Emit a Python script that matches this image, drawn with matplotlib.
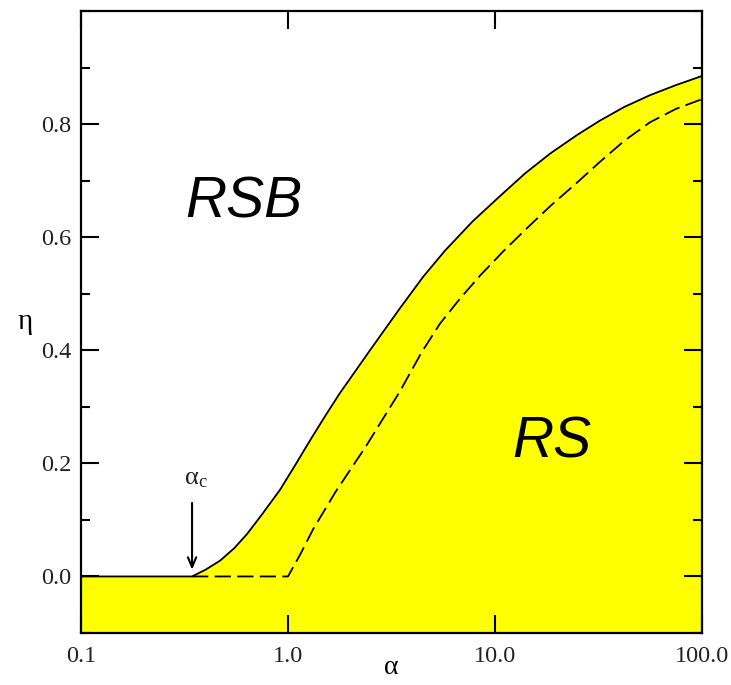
import matplotlib
matplotlib.use("Agg")
import matplotlib.pyplot as plt
from matplotlib.ticker import FixedLocator, MultipleLocator, NullLocator

plt.rcParams['mathtext.fontset'] = 'custom'
plt.rcParams['mathtext.rm'] = 'Liberation Serif'
plt.rcParams['mathtext.it'] = 'Liberation Serif'

# phase boundary (solid) and the RS stability line (dashed)
alpha_c = 0.344
alpha_solid = [0.1, 0.344, 0.40, 0.47, 0.55, 0.634, 0.75, 0.914, 1.08, 1.28,
               1.52, 1.78, 2.49, 3.47, 4.5, 5.73, 7.8, 10.6, 14.0, 18.5,
               25.0, 32.1, 42.0, 56.0, 75.0, 100.0]
eta_solid = [0.0, 0.0, 0.012, 0.028, 0.05, 0.075, 0.11, 0.153, 0.196, 0.241,
             0.285, 0.324, 0.40, 0.474, 0.53, 0.576, 0.628, 0.673, 0.713, 0.748,
             0.781, 0.806, 0.83, 0.851, 0.869, 0.885]

alpha_dash = [0.344, 1.0, 1.15, 1.32, 1.7, 2.15, 2.36, 3.47, 4.4, 5.42,
              6.8, 8.47, 10.9, 14.0, 18.5, 25.0, 32.1, 42.0, 56.0, 75.0, 100.0]
eta_dash = [0.0, 0.0, 0.04, 0.083, 0.15, 0.206, 0.228, 0.327, 0.395, 0.447,
            0.492, 0.532, 0.574, 0.613, 0.655, 0.697, 0.733, 0.77, 0.803, 0.827, 0.844]

xticks = [0.1, 1.0, 10.0, 100.0]
xlabels = ['0.1', '1.0', '10.0', '100.0']
yticks = [0.0, 0.2, 0.4, 0.6, 0.8]

serif = 'Liberation Serif'

fig = plt.figure(figsize=(7.31, 6.85), dpi=100)
ax = fig.add_axes([0.1108, 0.0759, 0.8495, 0.9081])

ax.set_xscale('log')
ax.set_xlim(0.1, 100)
ax.set_ylim(-0.1, 1.0)

ax.fill_between(alpha_solid, eta_solid, -0.1, color='#ffff00', lw=0, zorder=1)
ax.plot(alpha_solid, eta_solid, color='black', lw=1.3, zorder=3)
ax.plot(alpha_dash, eta_dash, color='black', lw=1.3, dashes=(9, 3.5), zorder=2)

ax.xaxis.set_major_locator(FixedLocator(xticks))
ax.xaxis.set_minor_locator(NullLocator())
ax.set_xticklabels(xlabels)
ax.yaxis.set_major_locator(FixedLocator(yticks))
ax.yaxis.set_minor_locator(MultipleLocator(0.1))
ax.set_yticklabels(['%.1f' % v for v in yticks])

ax.tick_params(which='both', direction='in', top=True, right=True, width=1.5)
ax.tick_params(which='major', length=13, labelsize=17.5, pad=7)
ax.tick_params(which='minor', length=6.5)
ax.tick_params(axis='x', pad=9)
for lab in ax.get_xticklabels() + ax.get_yticklabels():
    lab.set_family(serif)
    lab.set_color('#222222')
for sp in ax.spines.values():
    sp.set_linewidth(1.6)

ax.set_xlabel('α', fontsize=20, family=serif, va='center')
ax.xaxis.set_label_coords(0.5, -0.055)
ax.set_ylabel('η', fontsize=21, family=serif, rotation=0, va='center')
ax.yaxis.set_label_coords(-0.09, 0.5)

ax.text(0.613, 0.634, 'RSB', fontsize=41, style='italic', family='Liberation Sans',
        ha='center', va='baseline')
ax.text(18.8, 0.21, 'RS', fontsize=41, style='italic', family='Liberation Sans',
        ha='center', va='baseline')

ax.annotate('', xy=(alpha_c, 0.012), xytext=(alpha_c, 0.13),
            arrowprops=dict(arrowstyle='->,head_length=0.7,head_width=0.3',
                            color='black', lw=1.5, shrinkA=0, shrinkB=0))
ax.text(alpha_c * 1.04, 0.175, r'$\mathrm{\alpha_c}$', fontsize=19,
        ha='center', va='center', color='#222222')

fig.savefig('out.png', dpi=100)
